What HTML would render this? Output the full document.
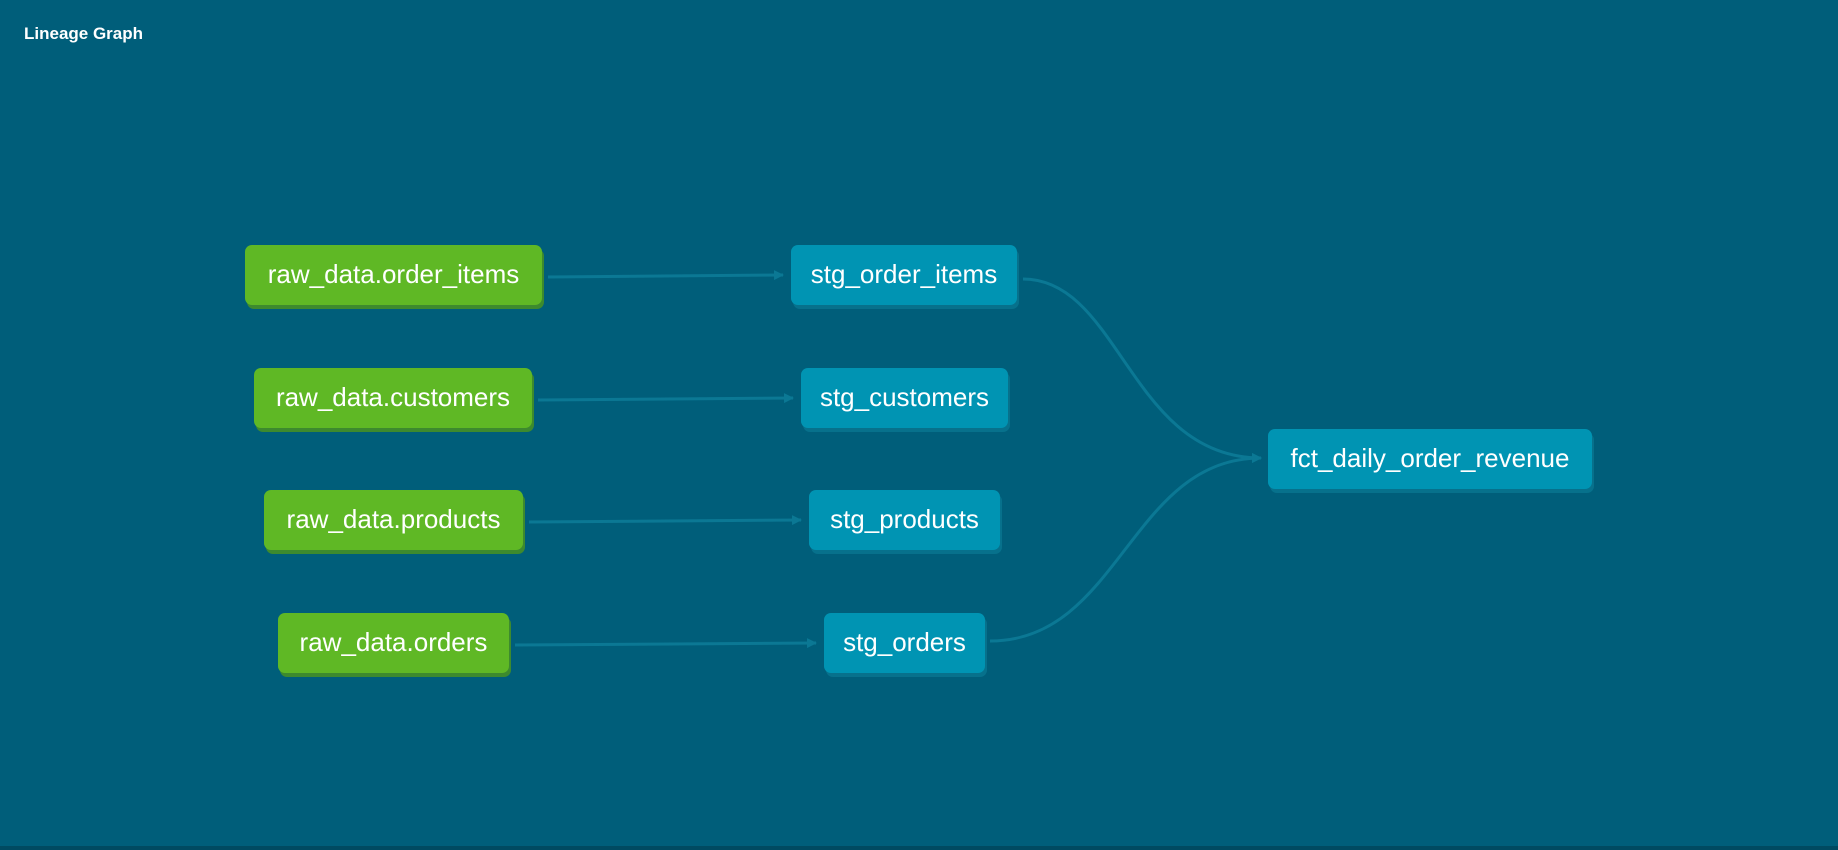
<!DOCTYPE html>
<html><head><meta charset="utf-8"><style>
body{margin:0;width:1838px;height:850px;background:#005e7a;overflow:hidden;font-family:"Liberation Sans",sans-serif;position:relative}
.t{position:absolute;left:24px;top:24px;color:#fff;font-weight:bold;font-size:17px}
.n{position:absolute;height:60px;line-height:58px;text-align:center;color:#fff;font-size:26px;border-radius:7px;box-sizing:border-box}
.g{background:#5fb825;box-shadow:2px 4px 0 #3d8a2e}
.b{background:#0094b3;box-shadow:2px 4px 0 #07718c}
svg{position:absolute;left:0;top:0}
.bl{position:absolute;left:0;top:846px;width:1838px;height:4px;background:#004a61}
</style></head><body>
<div class="t">Lineage Graph</div>
<svg width="1838" height="850"><defs><marker id="a" markerWidth="10" markerHeight="10" refX="9" refY="5" orient="auto" markerUnits="userSpaceOnUse"><path d="M0,0L10,5L0,10z" fill="#0b7894"/></marker></defs>
<g stroke="#0b7894" stroke-width="3" fill="none" marker-end="url(#a)">
<path d="M548,277L783,275"/>
<path d="M538,400L793,398"/>
<path d="M529,522L801,520"/>
<path d="M515,645L816,643"/>
<path d="M1023,279C1120,279 1130,458 1261,458"/>
<path d="M990,641C1120,641 1130,458 1261,458"/>
</g></svg>
<div class="n g" style="left:245px;top:245px;width:297px">raw_data.order_items</div>
<div class="n g" style="left:254px;top:368px;width:278px">raw_data.customers</div>
<div class="n g" style="left:264px;top:490px;width:259px">raw_data.products</div>
<div class="n g" style="left:278px;top:613px;width:231px">raw_data.orders</div>
<div class="n b" style="left:791px;top:245px;width:226px">stg_order_items</div>
<div class="n b" style="left:801px;top:368px;width:207px">stg_customers</div>
<div class="n b" style="left:809px;top:490px;width:191px">stg_products</div>
<div class="n b" style="left:824px;top:613px;width:161px">stg_orders</div>
<div class="n b" style="left:1268px;top:429px;width:324px">fct_daily_order_revenue</div>
<div class="bl"></div>
</body></html>
